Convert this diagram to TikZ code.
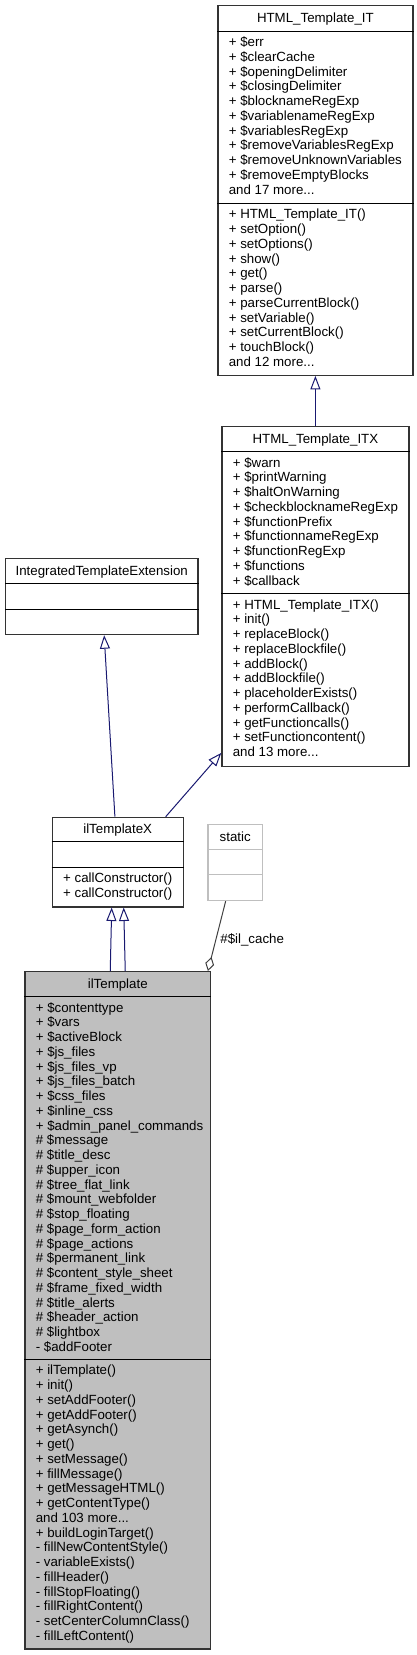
\documentclass[tikz,border=0pt]{standalone}
\usepackage{fontspec}
\setmainfont{Liberation Sans}
\usetikzlibrary{arrows.meta,calc}
\definecolor{edgeblue}{HTML}{191970}
\definecolor{boxgray}{HTML}{BFBFBF}
\newcommand\trail{...}
\newcommand\memberlist[4]{%
  \foreach \t [count=\i] in {#4}
    \node[member] (#2-\i) at ($(#1.north west)+(11.3,{#3+15.5+(\i-1)*14.75})$) {\t};}
\newcommand\compsep[2]{%
  \draw[sep] ($(#1.north west)+(0,#2)$) -- ($(#1.north east)+(0,#2)$);}
\begin{document}
\begin{tikzpicture}[x=1pt,y=-1pt,
  classbox/.style={draw=black!80,line width=1.2pt,inner sep=0pt,anchor=north west},
  member/.style={anchor=base west,inner sep=0pt},
  title/.style={anchor=base,inner sep=0pt},
  sep/.style={black,line width=1pt},
  inherit/.style={edgeblue,line width=1pt,-{Triangle[open,length=13.5pt,width=10pt,fill=white]}},
  aggr/.style={black!75,line width=1pt,-{Diamond[open,length=14.5pt,width=9pt,fill=white]}}]
\tikzstyle{every node}+=[font=\fontsize{13.3}{14.75}\selectfont]
\useasboundingbox (0,0) rectangle (417,1655);
\node[classbox,minimum width=195pt,minimum height=369.7pt] (it) at (217.3,5) {};
\node[title] (it-t) at ($(it.north)+(0,17)$) {HTML\_Template\_IT};
\compsep{it}{26}
\compsep{it}{198.3}
\memberlist{it}{it-a}{26}{+ \$err,+ \$clearCache,+ \$openingDelimiter,+ \$closingDelimiter,+ \$blocknameRegExp,+ \$variablenameRegExp,+ \$variablesRegExp,+ \$removeVariablesRegExp,+ \$removeUnknownVariables,+ \$removeEmptyBlocks,and 17 more\trail}
\memberlist{it}{it-m}{198.3}{+ HTML\_Template\_IT(),+ setOption(),+ setOptions(),+ show(),+ get(),+ parse(),+ parseCurrentBlock(),+ setVariable(),+ setCurrentBlock(),+ touchBlock(),and 12 more\trail}
\node[classbox,minimum width=187pt,minimum height=339.7pt] (itx) at (221.3,426) {};
\node[title] (itx-t) at ($(itx.north)+(0,17)$) {HTML\_Template\_ITX};
\compsep{itx}{25.7}
\compsep{itx}{167.5}
\memberlist{itx}{itx-a}{25.7}{+ \$warn,+ \$printWarning,+ \$haltOnWarning,+ \$checkblocknameRegExp,+ \$functionPrefix,+ \$functionnameRegExp,+ \$functionRegExp,+ \$functions,+ \$callback}
\memberlist{itx}{itx-m}{167.5}{+ HTML\_Template\_ITX(),+ init(),+ replaceBlock(),+ replaceBlockfile(),+ addBlock(),+ addBlockfile(),+ placeholderExists(),+ performCallback(),+ getFunctioncalls(),+ setFunctioncontent(),and 13 more\trail}
\node[classbox,minimum width=192.3pt,minimum height=76pt] (ite) at (5,558) {};
\node[title] (ite-t) at ($(ite.north)+(0,17)$) {IntegratedTemplateExtension};
\compsep{ite}{25}
\compsep{ite}{51}
\node[classbox,minimum width=130.8pt,minimum height=89.6pt] (iltx) at (51.7,816.7) {};
\node[title] (iltx-t) at ($(iltx.north)+(0,17)$) {ilTemplateX};
\compsep{iltx}{25}
\compsep{iltx}{50.6}
\memberlist{iltx}{iltx-m}{50.6}{+ callConstructor(),+ callConstructor()}
\node[classbox,draw=boxgray,minimum width=54.7pt,minimum height=76pt] (static) at (207.3,824) {};
\node[title] (static-t) at ($(static.north)+(0,17)$) {static};
\draw[boxgray,line width=1pt] ($(static.north west)+(0,25.3)$) -- ($(static.north east)+(0,25.3)$);
\draw[boxgray,line width=1pt] ($(static.north west)+(0,50.7)$) -- ($(static.north east)+(0,50.7)$);
\node[classbox,fill=boxgray,minimum width=185.7pt,minimum height=677.3pt] (ilt) at (24.3,971) {};
\node[title] (ilt-t) at ($(ilt.north)+(0,17)$) {ilTemplate};
\compsep{ilt}{25.7}
\compsep{ilt}{388.3}
\memberlist{ilt}{ilt-a}{25.7}{+ \$contenttype,+ \$vars,+ \$activeBlock,+ \$js\_files,+ \$js\_files\_vp,+ \$js\_files\_batch,+ \$css\_files,+ \$inline\_css,+ \$admin\_panel\_commands,\# \$message,\# \$title\_desc,\# \$upper\_icon,\# \$tree\_flat\_link,\# \$mount\_webfolder,\# \$stop\_floating,\# \$page\_form\_action,\# \$page\_actions,\# \$permanent\_link,\# \$content\_style\_sheet,\# \$frame\_fixed\_width,\# \$title\_alerts,\# \$header\_action,\# \$lightbox,- \$addFooter}
\memberlist{ilt}{ilt-m}{388.3}{+ ilTemplate(),+ init(),+ setAddFooter(),+ getAddFooter(),+ getAsynch(),+ get(),+ setMessage(),+ fillMessage(),+ getMessageHTML(),+ getContentType(),and 103 more\trail,+ buildLoginTarget(),- fillNewContentStyle(),- variableExists(),- fillHeader(),- fillStopFloating(),- fillRightContent(),- setCenterColumnClass(),- fillLeftContent()}
\draw[inherit] (itx.north) -- (it.south);
\draw[inherit] ($(iltx.north)+(-2.8,0)$) -- ($(ite.south)+(2.4,0)$);
\draw[inherit] ($(iltx.north)+(48,0)$) -- ($(itx.south west)+(0,-14)$);
\draw[inherit] ($(ilt.north)+(-7.5,0)$) -- ($(iltx.south)+(-6,0)$);
\draw[inherit] ($(ilt.north)+(7.5,0)$) -- ($(iltx.south)+(6,0)$);
\draw[aggr] ($(static.south)+(-9.6,0)$) -- node[pos=0.55,right=4pt,inner sep=0pt,text=black] (cache) {\#\$il\_cache} ($(ilt.north east)+(-3.3,0)$);
\end{tikzpicture}
\end{document}
